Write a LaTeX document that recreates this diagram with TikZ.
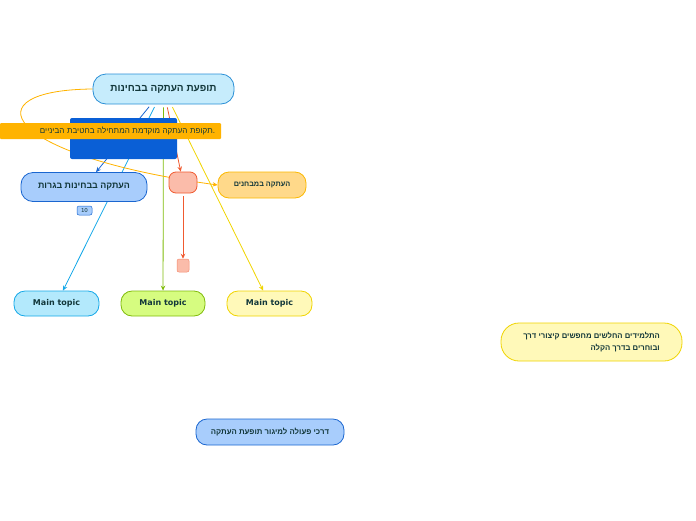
\documentclass[tikz,border=0pt]{standalone}
\usepackage{fontspec}
\setmainfont{DejaVu Sans}
\newfontfamily\hebfont[Script=Hebrew]{Liberation Sans}
\TeXXeTstate=1
\usetikzlibrary{positioning, calc, arrows.meta, backgrounds}

\definecolor{txt}{HTML}{12373A}
\definecolor{rootfill}{HTML}{C6ECFC}
\definecolor{rootline}{HTML}{2A8FD6}
\definecolor{darkblue}{HTML}{0A5FD6}
\definecolor{bagfill}{HTML}{A8CDFC}
\definecolor{bagline}{HTML}{1A66D0}
\definecolor{barorange}{HTML}{FFB300}
\definecolor{redfill}{HTML}{FBBCAA}
\definecolor{redline}{HTML}{F05A30}
\definecolor{mabfill}{HTML}{FFD98A}
\definecolor{mabline}{HTML}{FBB800}
\definecolor{cyanfill}{HTML}{B3E9FC}
\definecolor{cyanline}{HTML}{14A8E8}
\definecolor{greenfill}{HTML}{D6FC80}
\definecolor{greenline}{HTML}{80BC0A}
\definecolor{yelfill}{HTML}{FFF9B9}
\definecolor{yelline}{HTML}{F0D400}

\tikzset{
  topic/.style={draw, line width=0.8pt, rounded corners=11pt, minimum height=25pt, inner sep=0pt, text=txt, font=\bfseries\fontsize{8}{9}\selectfont},
  hebtopic/.style={topic, font=\hebfont\bfseries\fontsize{7.5}{9}\selectfont},
  link/.style={->, line width=0.8pt, shorten <=3pt},
  >={Stealth[length=5pt, width=4.5pt]}
}

\begin{document}
\begin{tikzpicture}[x=1pt, y=-1pt]
\useasboundingbox (0,0) rectangle (696,520);

\node (root) [hebtopic, fill=rootfill, draw=rootline, minimum width=141pt, minimum height=30pt, rounded corners=13pt, font=\hebfont\bfseries\fontsize{10}{10}\selectfont] at (163.5,89) {\beginR תופעת העתקה בבחינות\endR};
\node (box) [fill=darkblue, rounded corners=2pt, minimum width=107pt, minimum height=41pt] at (123.5,138.5) {};
\node (bar) [fill=barorange, rounded corners=1pt, text width=209pt, inner xsep=6pt, minimum height=16pt, align=right, text=txt, font=\hebfont\fontsize{8}{8}\selectfont] at (110.5,131) {\beginR תקופת העתקה מוקדמת המתחילה בחטיבת הביניים\endR.};

\node (bagrut) [hebtopic, fill=bagfill, draw=bagline, minimum width=126pt, minimum height=29pt, rounded corners=12pt, font=\hebfont\bfseries\fontsize{8.9}{9}\selectfont] at (84,187) {\beginR העתקה בבחינות בגרות\endR};
\node (badge) [fill=bagfill, draw=bagline, line width=0.5pt, rounded corners=2pt, minimum width=15pt, minimum height=9pt, inner sep=0pt, text=txt, font=\fontsize{5.5}{6}\selectfont] at (84.5,210.5) {10};
\node (red) [draw=redline, fill=redfill, line width=0.8pt, rounded corners=7pt, minimum width=28pt, minimum height=21pt] at (183,182.5) {};
\node (sq) [draw=redline!70, fill=redfill, line width=0.5pt, rounded corners=2pt, minimum width=12pt, minimum height=13pt, inner sep=0pt] at (183,265.5) {};
\node (mabhanim) [hebtopic, fill=mabfill, draw=mabline, minimum width=88pt, minimum height=26pt, font=\hebfont\bfseries\fontsize{7.3}{8}\selectfont] at (262,185) {\beginR העתקה במבחנים\endR};

\node (t1) [topic, fill=cyanfill, draw=cyanline, minimum width=85pt] at (56.5,303.5) {Main topic};
\node (t2) [topic, fill=greenfill, draw=greenline, minimum width=84pt] at (163,303.5) {Main topic};
\node (t3) [topic, fill=yelfill, draw=yelline, minimum width=85pt] at (269.5,303.5) {Main topic};

\node (note) [hebtopic, fill=yelfill, draw=yelline, minimum width=181pt, minimum height=38pt, rounded corners=18pt, align=right, font=\hebfont\bfseries\fontsize{7.7}{12}\selectfont] at (591.5,342) {\beginR התלמידים החלשים מחפשים קיצורי דרך\endR\\\beginR ובוחרים בדרך הקלה\endR};
\node (ways) [hebtopic, fill=bagfill, draw=bagline, minimum width=148pt, minimum height=26pt, font=\hebfont\bfseries\fontsize{7.8}{8}\selectfont] at (270,432) {\beginR דרכי פעולה למיגור תופעת העתקה\endR};

\begin{scope}[on background layer]
  \draw [link, bagline] (root) -- (bagrut);
  \draw [link, cyanline] (root) -- (t1);
  \draw [link, greenline] (root) -- (t2);
  \draw [link, redline] (root) -- (red);
  \draw [link, yelline] (root) -- (t3);
  \draw [link, redline] (red) -- (sq);
  \draw [->, barorange, line width=0.8pt] (root.west) .. controls (-30,90) and (0,155) .. (mabhanim.west);
\end{scope}
\end{tikzpicture}
\end{document}
